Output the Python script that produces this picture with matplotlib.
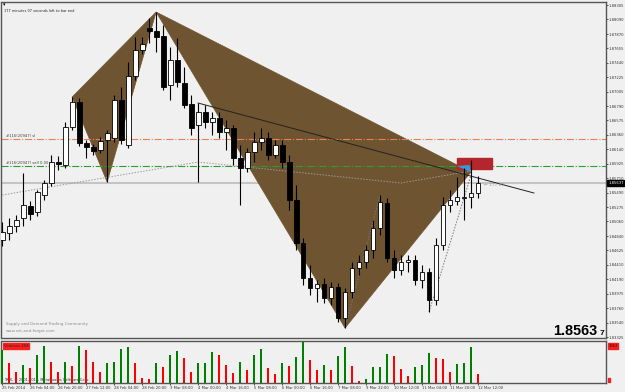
import matplotlib
matplotlib.use("Agg")
from matplotlib import pyplot as plt
from matplotlib.patches import Polygon, Rectangle
import matplotlib.transforms as mtransforms

# H4 candles, 25 Feb 2014 - 12 Mar 2014
opens = [1.84782, 1.84887, 1.84992, 1.85112, 1.85292, 1.85202, 1.85457, 1.85637, 1.85952, 1.85907,
         1.86477, 1.86852, 1.86237, 1.86177, 1.86132, 1.86282, 1.86312, 1.86882, 1.86207, 1.87242,
         1.87632, 1.87962, 1.87917, 1.87842, 1.87107, 1.87482, 1.87137, 1.86822, 1.86507, 1.86702,
         1.86552, 1.86612, 1.86402, 1.86462, 1.86012, 1.85862, 1.86102, 1.86252, 1.86312, 1.86057,
         1.86207, 1.85952, 1.85382, 1.84737, 1.84212, 1.84062, 1.84122, 1.83912, 1.84077, 1.83612,
         1.84002, 1.84362, 1.84452, 1.84632, 1.84962, 1.85337, 1.84512, 1.84332, 1.84452, 1.84482,
         1.84182, 1.84302, 1.83882, 1.84707, 1.85307, 1.85367, 1.85412, 1.85427, 1.85487]
highs = [1.85052, 1.85112, 1.85157, 1.85787, 1.85367, 1.85532, 1.85682, 1.86057, 1.86042, 1.86552,
         1.86927, 1.86912, 1.86282, 1.86222, 1.86327, 1.86432, 1.86957, 1.87077, 1.87452, 1.87827,
         1.87827, 1.88112, 1.88202, 1.88007, 1.87677, 1.87812, 1.87377, 1.86957, 1.86837, 1.86807,
         1.86702, 1.86702, 1.86582, 1.86507, 1.86207, 1.86162, 1.86402, 1.86462, 1.86402, 1.86282,
         1.86282, 1.86057, 1.85607, 1.84812, 1.84407, 1.84182, 1.84212, 1.84152, 1.84137, 1.84062,
         1.84452, 1.84557, 1.84707, 1.85082, 1.85457, 1.85412, 1.84632, 1.84557, 1.84557, 1.84557,
         1.84407, 1.84362, 1.84812, 1.85427, 1.85532, 1.85727, 1.85862, 1.85982, 1.85742]
lows = [1.84692, 1.84782, 1.84902, 1.84992, 1.85082, 1.85142, 1.85382, 1.85592, 1.85832, 1.85862,
        1.86432, 1.86192, 1.86012, 1.86057, 1.86087, 1.85652, 1.86252, 1.86222, 1.86162, 1.87182,
        1.87572, 1.87737, 1.87602, 1.87032, 1.86882, 1.87077, 1.86762, 1.86357, 1.85652, 1.86462,
        1.86357, 1.86312, 1.86132, 1.85907, 1.85307, 1.85802, 1.85952, 1.86132, 1.85982, 1.86012,
        1.85862, 1.85232, 1.84632, 1.84107, 1.83957, 1.83852, 1.83837, 1.83807, 1.83552, 1.83462,
        1.83912, 1.84257, 1.84362, 1.84512, 1.84857, 1.84452, 1.84212, 1.84257, 1.84302, 1.84107,
        1.84062, 1.83702, 1.83807, 1.84632, 1.85202, 1.85307, 1.85082, 1.85262, 1.85412]
closes = [1.84902, 1.84992, 1.85082, 1.85307, 1.85172, 1.85502, 1.85637, 1.85952, 1.85922, 1.86477,
          1.86852, 1.86237, 1.86177, 1.86117, 1.86267, 1.86387, 1.86882, 1.86282, 1.87242, 1.87632,
          1.87722, 1.87917, 1.87827, 1.87077, 1.87482, 1.87152, 1.86807, 1.86462, 1.86702, 1.86552,
          1.86612, 1.86402, 1.86462, 1.86012, 1.85862, 1.86102, 1.86252, 1.86312, 1.86057, 1.86207,
          1.85952, 1.85382, 1.84737, 1.84212, 1.84062, 1.84122, 1.83912, 1.84077, 1.83612, 1.84002,
          1.84362, 1.84452, 1.84632, 1.84962, 1.85352, 1.84512, 1.84332, 1.84452, 1.84482, 1.84182,
          1.84302, 1.83882, 1.84707, 1.85307, 1.85382, 1.85427, 1.85427, 1.85487, 1.85637]
volumes = [2300, 1380, 780, 1265, 1060, 1930, 2575, 1425, 780, 1425,
           1195, 2575, 2255, 1425, 735, 1400, 1450, 2345, 2505, 1355,
           345, 300, 1355, 1105, 1955, 2185, 1700, 735, 1355, 1400,
           2140, 1910, 1240, 690, 1470, 920, 1910, 2345, 1060, 600,
           1400, 1150, 1815, 2830, 1610, 875, 1220, 875, 1885, 2460,
           1195, 160, 300, 1080, 1125, 2025, 1885, 945, 460, 1080,
           1220, 2045, 1700, 1655, 735, 1290, 1355, 2460, 608]

time_labels = ["25 Feb 2014", "26 Feb 04:00", "26 Feb 20:00", "27 Feb 12:00", "28 Feb 04:00",
               "28 Feb 20:00", "3 Mar 08:00", "4 Mar 00:00", "4 Mar 16:00", "5 Mar 08:00",
               "6 Mar 00:00", "6 Mar 16:00", "7 Mar 08:00", "9 Mar 22:00", "10 Mar 12:00",
               "11 Mar 04:00", "11 Mar 20:00", "12 Mar 12:00"]
price_ticks = [1.83325, 1.83540, 1.83760, 1.83975, 1.84190, 1.84410, 1.84625, 1.84840,
               1.85060, 1.85275, 1.85490, 1.85710, 1.85925, 1.86140, 1.86360, 1.86575,
               1.86790, 1.87005, 1.87225, 1.87440, 1.87655, 1.87870, 1.88090, 1.88305]

# XABCD pattern points (bar, price)
pattern_bars = [10, 15, 22, 49, 67]
pattern_prices = [1.86927, 1.85652, 1.88202, 1.83462, 1.85802]

# other chart objects
trend_bars = [28, 76]
trend_prices = [1.86837, 1.85487]
dotted_bars = [0, 28, 57, 67]
dotted_prices = [1.85457, 1.85952, 1.85637, 1.85817]
proj1_bars = [49, 54]
proj1_prices = [1.83462, 1.85457]
proj2_bars = [61, 67]
proj2_prices = [1.83702, 1.85757]
sl_level = 1.86297
sell_level = 1.85892
bid = 1.85637

BG = '#f0f0f0'
W, H = 625, 392
FS = 2.7  # MT4 small font

fig = plt.figure(figsize=(W / 100, H / 100), dpi=100, facecolor=BG)

def px_rect(l, t, r, b):
  return [l / W, 1 - b / H, (r - l) / W, (b - t) / H]

ax = fig.add_axes(px_rect(1.5, 1.5, 606, 338))
vax = fig.add_axes(px_rect(1.5, 341, 606, 383), sharex=ax)

for a in (ax, vax):
  a.set_facecolor(BG)
  for s in a.spines.values():
    s.set_color('#555555')
    s.set_linewidth(1.0)

n = len(opens)
xs = list(range(n))

# pattern triangles
X, A, B, C, D = list(zip(pattern_bars, pattern_prices))
brown = '#6f5431'
ax.add_patch(Polygon([X, A, B], closed=True, facecolor=brown, edgecolor=brown, lw=0.5, zorder=1))
ax.add_patch(Polygon([B, C, D], closed=True, facecolor=brown, edgecolor=brown, lw=0.5, zorder=1))

# horizontal levels
ax.axhline(sl_level, color='#e8805a', lw=0.8, ls='-.', zorder=2)
ax.axhline(sell_level, color='#2e9e2e', lw=0.8, ls='-.', zorder=2)
ax.axhline(bid, color='#c4c4c4', lw=1.5, zorder=0.5)
ax.text(0.6, sl_level + 0.0001, "#116(20947) sl", fontsize=FS, color='#444444', va='bottom', zorder=6)
ax.text(0.6, sell_level + 0.0001, "#116(20947) sell 0.00", fontsize=FS, color='#444444',
        va='bottom', zorder=6)

# target box
ax.add_patch(Rectangle((65, 1.85847), 5, 1.86012 - 1.85847, facecolor='#b3262b',
                       edgecolor='#b3262b', zorder=3))
ax.add_patch(Polygon([(65, 1.85892), (66.8, 1.85907), (67, 1.85802)], closed=True,
                     facecolor='#3a9ad9', edgecolor='none', zorder=3.5))

# lines
ax.plot(trend_bars, trend_prices, color='#222222', lw=0.7, zorder=4)
ax.plot(dotted_bars, dotted_prices, color='#9a9a9a', lw=0.7, ls=(0, (1.5, 1.5)), zorder=2)
ax.plot(proj1_bars, proj1_prices, color='#777777', lw=0.7, ls=(0, (1.5, 1.5)), zorder=4)
ax.plot(proj2_bars, proj2_prices, color='#777777', lw=0.7, ls=(0, (1.5, 1.5)), zorder=4)

# candles
ax.vlines(xs, lows, highs, color='black', lw=0.8, zorder=5)
for i in range(n):
  o, c = opens[i], closes[i]
  bottom = min(o, c)
  height = max(abs(c - o), 0.00004)
  face = 'white' if c >= o else 'black'
  ax.bar(i, height, bottom=bottom, width=0.7, color=face, edgecolor='black', lw=0.6, zorder=5.5)

ax.text(68.8, bid - 0.00045, "\u2190 177:07", fontsize=3.2, color='#999999', zorder=6)

ax.set_xlim(-0.1, 86.3)
ax.set_ylim(1.83312, 1.88360)
ax.yaxis.tick_right()
ax.set_yticks(price_ticks)
ax.set_yticklabels(["%.5f" % p for p in price_ticks])
ax.tick_params(axis='y', labelsize=FS, length=1.5, width=0.6, pad=0.6, colors='#333333')
ax.tick_params(axis='x', bottom=False, labelbottom=False)

trans = mtransforms.blended_transform_factory(ax.transAxes, ax.transData)
ax.text(1.0035, bid, "%.5f" % bid, transform=trans, fontsize=FS, color='white', va='center',
        ha='left', bbox=dict(boxstyle='square,pad=0.2', fc='black', ec='black'), zorder=10,
        clip_on=False)

ax.text(0.003, 0.998, "\u25be", transform=ax.transAxes, fontsize=3.5, va='top')
ax.text(0.004, 0.978, "177 minutes 07 seconds left to bar end", transform=ax.transAxes,
        fontsize=2.5, va='top', color='#222222')
ax.text(0.007, 0.04, "Supply and Demand Trading Community", transform=ax.transAxes,
        fontsize=2.9, color='#8a8a8a')
ax.text(0.007, 0.018, "www.set-and-forget.com", transform=ax.transAxes,
        fontsize=2.9, color='#8a8a8a')

fig.text(597 / W, 1 - 335 / H, "1.8563", fontsize=10.4, fontweight='bold',
         family='Liberation Sans', ha='right', va='baseline')
fig.text(604 / W, 1 - 335 / H, "7", fontsize=6, fontweight='bold',
         family='Liberation Sans', ha='right', va='baseline')

# volumes: green when higher than previous bar
vcolors = ['#008000' if i == 0 or volumes[i] >= volumes[i - 1] else '#ff0000' for i in range(n)]
vax.bar(xs, volumes, width=0.3, color=vcolors, zorder=3)
vax.set_ylim(0, 2900)
vax.set_yticks([])
vax.set_xticks(list(range(0, n, 4)))
vax.set_xticklabels(time_labels, ha='left')
vax.tick_params(axis='x', labelsize=FS, length=1.5, width=0.6, pad=0.8, colors='#333333')
vax.text(0.004, 0.93, "Volumes 608", transform=vax.transAxes, fontsize=FS, va='top',
         color='#222222', bbox=dict(boxstyle='square,pad=0.15', fc='#ff2020', ec='#ff2020'))
vax.text(0.004, 0.05, "TRIX, \u00a9 2001-2014, MetaQuotes Software Corp.", transform=vax.transAxes,
         fontsize=2.5, color='#222222', zorder=2)
vax.text(1.004, 0.88, "3362", transform=vax.transAxes, fontsize=FS, color='#550000', va='center',
         bbox=dict(boxstyle='square,pad=0.15', fc='#ee2222', ec='#ee2222'), clip_on=False)
vax.text(1.004, 0.07, " ", transform=vax.transAxes, fontsize=FS, va='center',
         bbox=dict(boxstyle='square,pad=0.1', fc='#ee2222', ec='#ee2222'), clip_on=False)

fig.savefig("out.png", dpi=100, facecolor=BG)
